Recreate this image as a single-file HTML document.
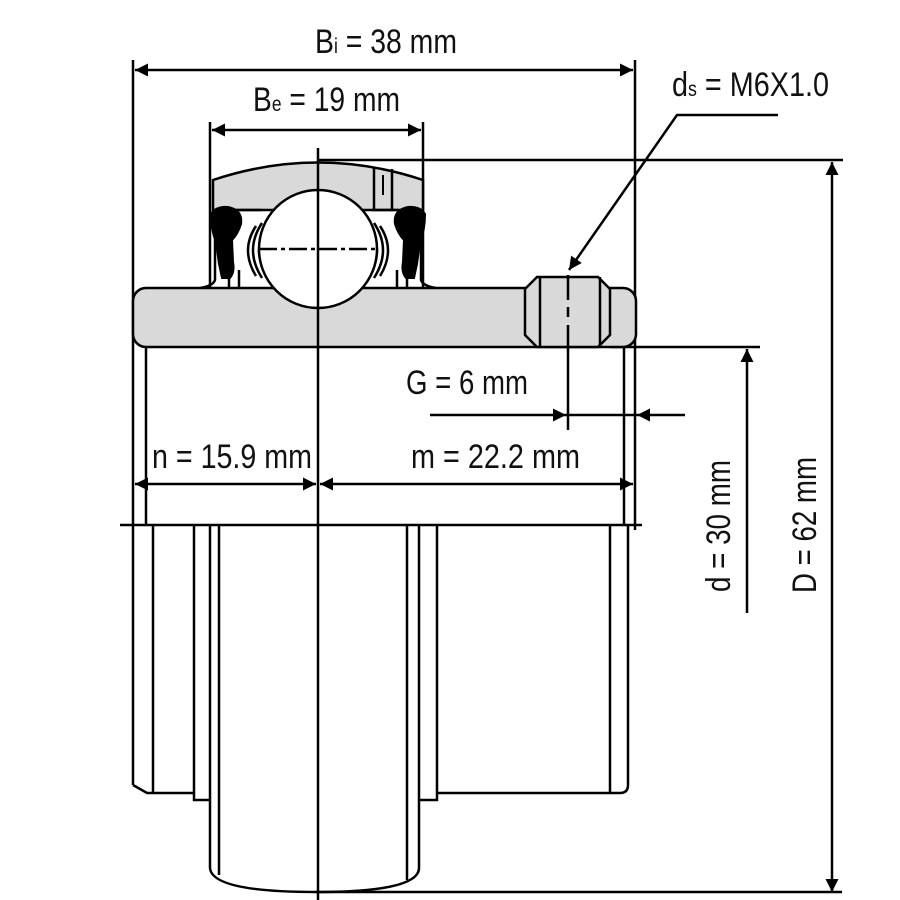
<!DOCTYPE html>
<html><head><meta charset="utf-8"><style>
html,body{margin:0;padding:0;background:#fff;}
svg{display:block;}
text{font-family:"Liberation Sans Narrow","Liberation Sans",sans-serif;fill:#111;}
</style></head><body>
<svg width="900" height="900" viewBox="0 0 900 900" xmlns="http://www.w3.org/2000/svg">
<defs>
<marker id="a" viewBox="0 0 10 10" refX="10" refY="5" markerWidth="30" markerHeight="13" markerUnits="userSpaceOnUse" orient="auto-start-reverse"><path d="M0,0 L10,5 L0,10 z" fill="#000"/></marker>
</defs>
<g stroke="#000" stroke-width="2.5" fill="none">
<line x1="133" y1="60" x2="133" y2="785"/>
<line x1="635" y1="60" x2="635" y2="530"/>
<line x1="210" y1="122" x2="210" y2="290"/>
<line x1="423" y1="122" x2="423" y2="290"/>
<line x1="318" y1="160" x2="843" y2="160"/>
<line x1="610" y1="347" x2="760" y2="347"/>
<line x1="316" y1="892" x2="842" y2="892"/>
<line x1="135" y1="70" x2="633" y2="70" marker-start="url(#a)" marker-end="url(#a)"/>
<line x1="212" y1="130" x2="421" y2="130" marker-start="url(#a)" marker-end="url(#a)"/>
<line x1="135" y1="484" x2="316" y2="484" marker-start="url(#a)" marker-end="url(#a)"/>
<line x1="320" y1="484" x2="633" y2="484" marker-start="url(#a)" marker-end="url(#a)"/>
<line x1="430" y1="415" x2="566" y2="415" marker-end="url(#a)"/>
<line x1="685" y1="415" x2="637" y2="415" marker-end="url(#a)"/>
<line x1="566" y1="415" x2="637" y2="415"/>
<line x1="747" y1="613" x2="747" y2="349" marker-end="url(#a)"/>
<line x1="832" y1="892" x2="832" y2="162" marker-start="url(#a)" marker-end="url(#a)"/>
<polyline points="778,115 677,115 569,270" marker-end="url(#a)"/>
</g>
<path d="M213,210 L213,180 Q318,145 423,180 L423,210 Z" fill="#d9d9d9" stroke="#000" stroke-width="2.5"/>
<g stroke="#000" stroke-width="2.5" fill="none">
<line x1="374" y1="168" x2="374" y2="210"/><line x1="392" y1="169" x2="392" y2="210"/>
<line x1="383" y1="175" x2="383" y2="195" stroke-width="2"/>
</g>
<rect x="133" y="288" width="503" height="59" rx="13" fill="#d9d9d9" stroke="#000" stroke-width="2.5"/>
<path d="M537,277 L598,277 L610,289 L610,335 L598,347 L537,347 L525,335 L525,289 Z" fill="#d9d9d9" stroke="#000" stroke-width="2.5"/>
<g stroke="#000" stroke-width="2.5">
<line x1="540" y1="277" x2="540" y2="347"/><line x1="600" y1="277" x2="600" y2="347"/>
<line x1="568" y1="275" x2="568" y2="300"/><line x1="568" y1="307" x2="568" y2="317"/><line x1="568" y1="325" x2="568" y2="430"/>
</g>
<g fill="#000" stroke="#000" stroke-width="2">
<path d="M211,214 Q216,206 228,207 Q243,210 241,224 Q238,234 232,240 L233,262 Q235,272 230,278 L222,278 L219,264 L216,242 Q211,230 211,214 Z"/>
<path d="M425,214 Q420,206 408,207 Q393,210 395,224 Q398,234 404,240 L403,262 Q401,272 406,278 L414,278 L417,264 L420,242 Q425,230 425,214 Z"/>
</g>
<g stroke="#000" stroke-width="2.5" fill="none">
<path d="M215,210 L215,280 Q213,286 200,288"/>
<path d="M229,272 L229,288 M239,270 L239,288 M236,210 L262,210"/>
<path d="M421,210 L421,280 Q423,286 436,288"/>
<path d="M407,272 L407,288 M397,270 L397,288 M372,210 L398,210"/>
<path d="M262,223 Q244,250 262,278"/><path d="M256,226 Q240,250 256,276"/><path d="M266,228 Q252,250 266,274"/>
<path d="M374,223 Q392,250 374,278"/><path d="M380,226 Q396,250 380,276"/><path d="M370,228 Q384,250 370,274"/>
</g>
<circle cx="318" cy="249" r="59" fill="#fff" stroke="#000" stroke-width="2.5"/>
<g stroke="#000" stroke-width="2.5">
<line x1="259" y1="249" x2="377" y2="249" stroke-dasharray="18,4,4,4"/>
<line x1="318" y1="148" x2="318" y2="900"/>
</g>
<g stroke="#000" stroke-width="2.5" fill="none">
<line x1="146" y1="347" x2="146" y2="525"/>
<line x1="624" y1="347" x2="624" y2="525"/>
<line x1="120" y1="525" x2="642" y2="525"/>
<path d="M133,785 L147,793 L194,793"/>
<line x1="153" y1="525" x2="153" y2="793"/>
<path d="M194,525 L194,800 L210,800"/>
<path d="M210,525 L210,868 Q212,892 316,892 Q419,892 419,868 L419,525"/>
<line x1="219" y1="525" x2="219" y2="875"/>
<line x1="407" y1="525" x2="407" y2="880"/>
<path d="M419,800 L437,800 L437,525"/>
<path d="M437,793 L620,793 Q628,793 628,785 L628,525"/>
<line x1="610" y1="525" x2="610" y2="793"/>
</g>
<text x="315" y="53" font-size="34" textLength="142" lengthAdjust="spacingAndGlyphs">B<tspan font-size="21">i</tspan> = 38 mm</text>
<text x="253" y="111" font-size="34" textLength="147" lengthAdjust="spacingAndGlyphs">B<tspan font-size="21">e</tspan> = 19 mm</text>
<text x="672" y="96" font-size="34" textLength="157" lengthAdjust="spacingAndGlyphs">d<tspan font-size="21">s</tspan> = M6X1.0</text>
<text x="406" y="394" font-size="34" textLength="122" lengthAdjust="spacingAndGlyphs">G = 6 mm</text>
<text x="152" y="468" font-size="34" textLength="160" lengthAdjust="spacingAndGlyphs">n = 15.9 mm</text>
<text x="411" y="468" font-size="34" textLength="169" lengthAdjust="spacingAndGlyphs">m = 22.2 mm</text>
<text transform="translate(730,592) rotate(-90)" font-size="34" textLength="132" lengthAdjust="spacingAndGlyphs">d = 30 mm</text>
<text transform="translate(816,593) rotate(-90)" font-size="34" textLength="136" lengthAdjust="spacingAndGlyphs">D = 62 mm</text>
</svg>
</body></html>
